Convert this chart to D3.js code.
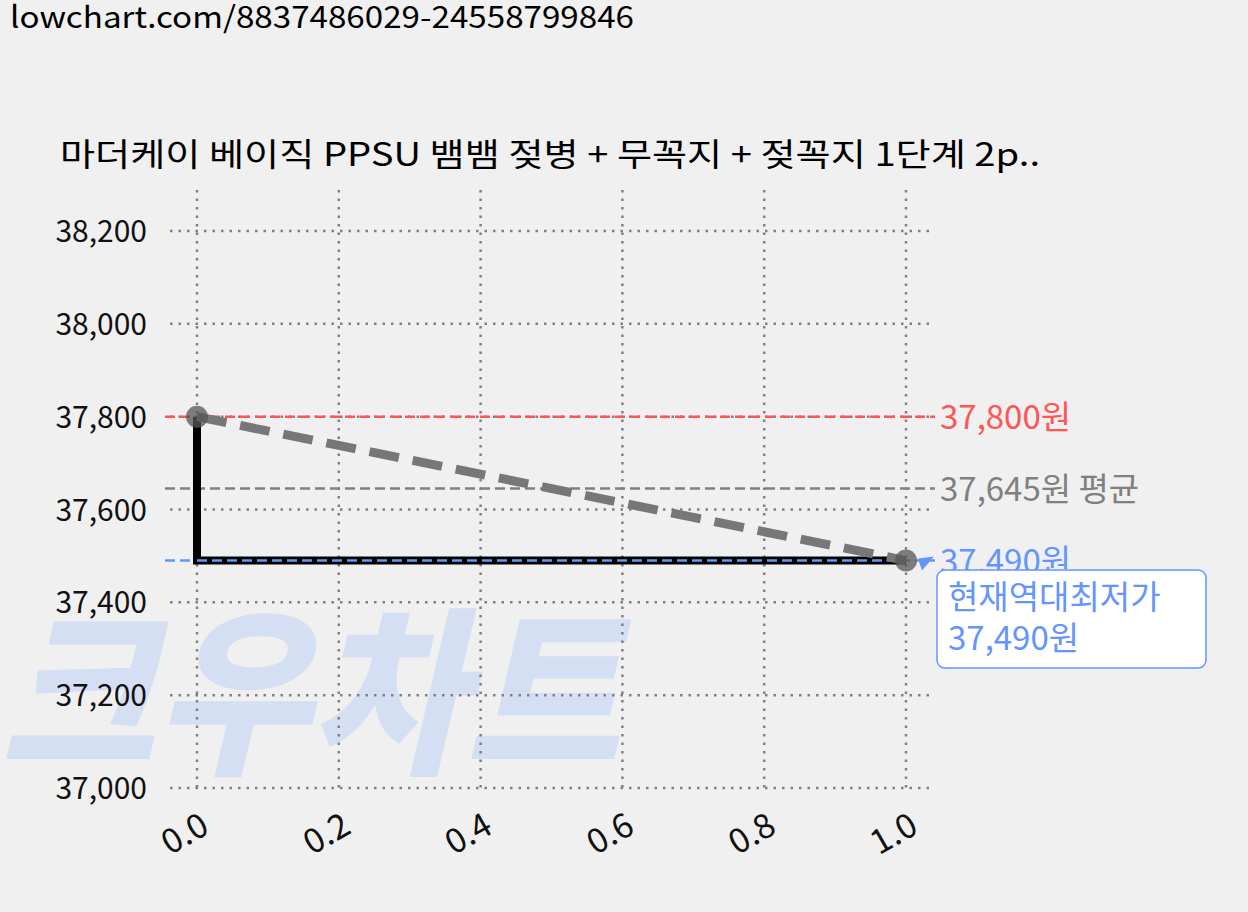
<!DOCTYPE html>
<html><head><meta charset="utf-8">
<script src="https://cdn.jsdelivr.net/npm/d3@7"></script>
<style>
body{margin:0;background:#f0f0f0;font-family:"Noto Sans CJK KR","Noto Sans",sans-serif;}
</style></head><body>
<svg id="chart" width="1248" height="912"></svg>
<script>
const xs = [0, 1];
const prices = [37800, 37490];
const stepPts = [[0, 37800], [0, 37490], [1, 37490]];
const yTicks = [37000, 37200, 37400, 37600, 37800, 38000, 38200];
const xTicks = [0, 0.2, 0.4, 0.6, 0.8, 1.0];
const maxPrice = 37800, avgPrice = 37645, minPrice = 37490;
const title = "마더케이 베이직 PPSU 뱀뱀 젖병 + 무꼭지 + 젖꼭지 1단계 2p..";

const svg = d3.select("#chart");
const x = d3.scaleLinear().domain([0, 1]).range([197, 906]);
const y = d3.scaleLinear().domain([37000, 38200]).range([788, 231]);
const plotLeft = 170, plotRight = 935, plotTop = 190;

svg.append("text").attr("x", 10).attr("y", 28).attr("font-size", 30).attr("fill", "#000")
    .attr("textLength", 624).attr("lengthAdjust", "spacingAndGlyphs")
    .text("lowchart.com/8837486029-24558799846");

// watermark
svg.append("text").attr("x", 0).attr("y", 760).attr("font-size", 180).attr("font-weight", 900)
    .attr("font-style", "italic").attr("fill", "#d5dff3").attr("textLength", 620)
    .attr("lengthAdjust", "spacingAndGlyphs").text("크우차트");

svg.append("text").attr("x", 60).attr("y", 166).attr("font-size", 32)
    .attr("textLength", 980).attr("lengthAdjust", "spacingAndGlyphs").text(title);

// grid
svg.append("g").selectAll("line").data(yTicks).join("line")
    .attr("x1", plotLeft).attr("x2", plotRight).attr("y1", d => y(d)).attr("y2", d => y(d))
    .attr("stroke", "#808080").attr("stroke-width", 2.5).attr("stroke-dasharray", "2.5,6");
svg.append("g").selectAll("line").data(xTicks).join("line")
    .attr("x1", d => x(d)).attr("x2", d => x(d)).attr("y1", plotTop).attr("y2", 788)
    .attr("stroke", "#808080").attr("stroke-width", 2.5).attr("stroke-dasharray", "2.5,6");

svg.append("g").selectAll("text").data(yTicks).join("text")
    .attr("x", 147).attr("y", d => y(d) + 11).attr("text-anchor", "end").attr("font-size", 30)
    .attr("fill", "#111").text(d => d3.format(",")(d));
svg.append("g").selectAll("text").data(xTicks).join("text")
    .attr("transform", d => `translate(${x(d) + 14},${832}) rotate(-30)`)
    .attr("text-anchor", "end").attr("font-size", 34).attr("fill", "#111")
    .text(d => d.toFixed(1));

// reference lines
const refs = [
    { v: maxPrice, c: "#ff5555", label: "37,800원" },
    { v: avgPrice, c: "#808080", label: "37,645원 평균" },
    { v: minPrice, c: "#6495ff", label: "37,490원" }
];
refs.forEach(r => {
    svg.append("line").attr("x1", 165).attr("x2", 935).attr("y1", y(r.v)).attr("y2", y(r.v))
        .attr("stroke", r.c).attr("stroke-width", 2.5).attr("stroke-dasharray", "10,5");
    svg.append("text").attr("x", 940).attr("y", y(r.v) + 12).attr("font-size", 33)
        .attr("fill", r.c).text(r.label);
});

// step line
svg.append("path").datum(stepPts)
    .attr("d", d3.line().x(d => x(d[0])).y(d => y(d[1])))
    .attr("fill", "none").attr("stroke", "#000").attr("stroke-width", 8);
svg.append("line").attr("x1", x(0)).attr("x2", x(1)).attr("y1", y(minPrice)).attr("y2", y(minPrice))
    .attr("stroke", "#6495ff").attr("stroke-width", 2.5).attr("stroke-dasharray", "10,5");

// trend
svg.append("path").datum(xs.map((d, i) => [d, prices[i]]))
    .attr("d", d3.line().x(d => x(d[0])).y(d => y(d[1])))
    .attr("fill", "none").attr("stroke", "#777").attr("stroke-width", 9).attr("stroke-dasharray", "30,14");
svg.append("g").selectAll("circle").data(xs).join("circle")
    .attr("cx", d => x(d)).attr("cy", (d, i) => y(prices[i])).attr("r", 11)
    .attr("fill", "#555").attr("opacity", 0.75);

// annotation
svg.append("path").attr("d", `M${x(1) + 28},${y(minPrice) - 4} L${x(1) + 16},${y(minPrice) + 10} L${x(1) + 12},${y(minPrice) - 2}Z`)
    .attr("fill", "#6495ff");
svg.append("rect").attr("x", 937).attr("y", 570).attr("width", 269).attr("height", 98).attr("rx", 8)
    .attr("fill", "#fff").attr("stroke", "#6495ff").attr("stroke-width", 1.5);
svg.append("text").attr("x", 948).attr("y", 609).attr("font-size", 33).attr("fill", "#6495ff").text("현재역대최저가");
svg.append("text").attr("x", 948).attr("y", 650).attr("font-size", 33).attr("fill", "#6495ff").text("37,490원");
</script></body></html>
